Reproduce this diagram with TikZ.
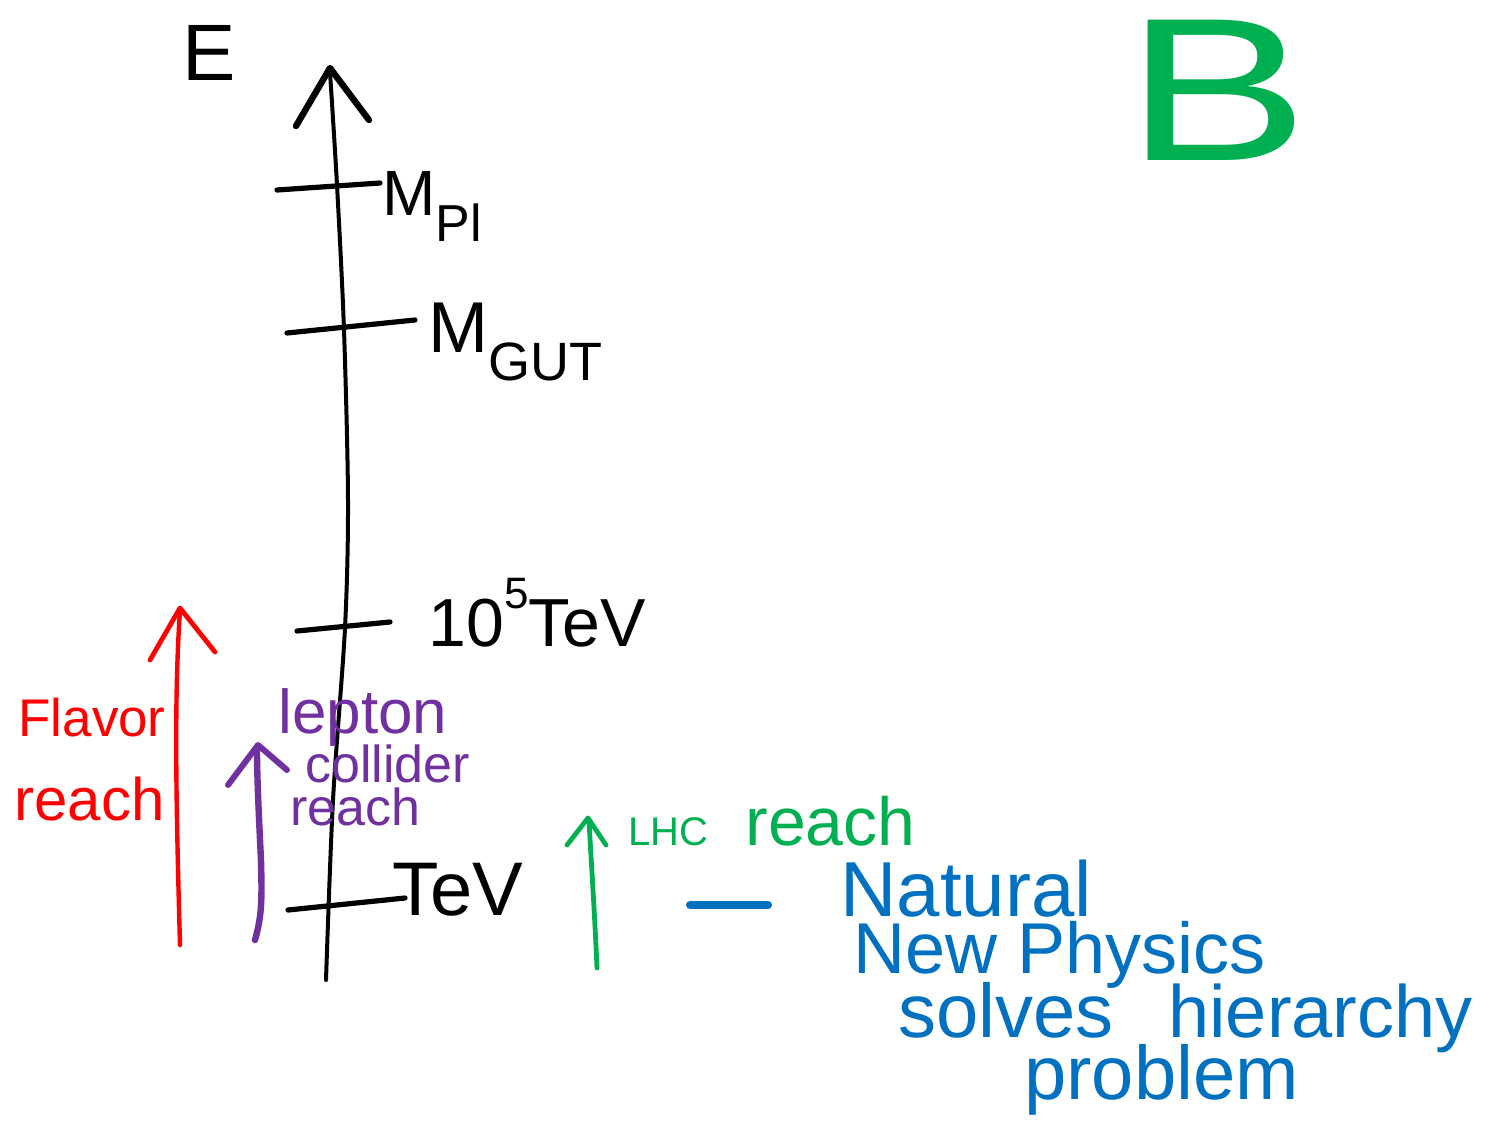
\documentclass[tikz,border=0pt]{standalone}
\usepackage{fontspec}
\setmainfont{Liberation Sans}
\definecolor{hred}{RGB}{255,0,0}
\definecolor{hpurple}{RGB}{112,48,160}
\definecolor{hgreen}{RGB}{0,176,80}
\definecolor{hblue}{RGB}{0,112,192}
\newcommand{\fsz}[1]{\fontsize{#1}{#1}\selectfont}
\begin{document}
\begin{tikzpicture}[x=0.5pt,y=-0.5pt,
  stroke/.style={line cap=round,line join=round},
  lbl/.style={inner sep=0pt,anchor=base west},
  ax/.style={stroke,black,line width=2pt},
  tick/.style={stroke,black,line width=2.6pt}]
\useasboundingbox (0,0) rectangle (1494,1131);
% axis
\draw[ax] plot[smooth] coordinates {(326,980) (333,800) (345,628) (348,500) (344,330) (337,185) (330,72)};
\draw[stroke,line width=3.2pt] (296,126) -- (330,68) -- (369,120);
% ticks
\draw[tick] (277,190) -- (380,183);
\draw[tick] (287,333) -- (415,320);
\draw[tick] (297,631) -- (390,622);
\draw[tick] (288,910) -- (405,898);
% labels black
\node[lbl] (E) at (182,80) {\fsz{40}E};
\node[lbl] (mpl) at (382,215) {\fsz{32}M\raisebox{-0.42em}{\fsz{26}Pl}};
\node[lbl] (mgut) at (428,352) {\fsz{36}M\raisebox{-0.4em}{\fsz{27}GUT}};
\node[lbl] (tev5) at (428,646) {\fsz{34}10\raisebox{0.55em}{\fsz{22}5}TeV};
\node[lbl] (tev) at (392,915) {\fsz{38}TeV};
% B
\node[lbl,text=hgreen] (B) at (1125,160) {\fsz{102}\scalebox{1.35}[1]{B}};
% red arrow
\draw[stroke,hred,line width=2.2pt] (180,945) .. controls (176,800) and (174,700) .. (180,610);
\draw[stroke,hred,line width=2.4pt] (150,660) -- (180,608) -- (215,652);
\node[lbl,text=hred] (flavor) at (18,736) {\fsz{26.5}Flavor};
\node[lbl,text=hred] (freach) at (14,820) {\fsz{30}reach};
% purple arrow
\draw[stroke,hpurple,line width=3.2pt] (255,940) .. controls (262,915) and (262,900) .. (261,860) .. controls (258,800) and (257,770) .. (257,750);
\draw[stroke,hpurple,line width=3pt] (228,785) -- (258,745) -- (287,770);
\node[lbl,text=hpurple] (lepton) at (278,733) {\fsz{31}lepton};
\node[lbl,text=hpurple] (collider) at (305,782) {\fsz{26}collider};
\node[lbl,text=hpurple] (preach) at (290,825) {\fsz{26}reach};
% green arrow
\draw[stroke,hgreen,line width=2.4pt] (597,968) .. controls (594,900) and (591,860) .. (589,820);
\draw[stroke,hgreen,line width=2.4pt] (567,845) -- (588,818) -- (606,845);
\node[lbl,text=hgreen] (lhc) at (628,845) {\fsz{20}LHC};
\node[lbl,text=hgreen] (greach) at (745,845) {\fsz{34}reach};
% blue
\draw[stroke,hblue,line width=4pt] (690,905) -- (768,905);
\node[lbl,text=hblue] (natural) at (840,916) {\fsz{39}Natural};
\node[lbl,text=hblue] (newphys) at (853,973) {\fsz{36}New Physics};
\node[lbl,text=hblue] (solves) at (898,1037) {\fsz{38}solves};
\node[lbl,text=hblue] (hier) at (1168,1037) {\fsz{37}hierarchy};
\node[lbl,text=hblue] (problem) at (1024,1099) {\fsz{38}problem};
\end{tikzpicture}
\end{document}
